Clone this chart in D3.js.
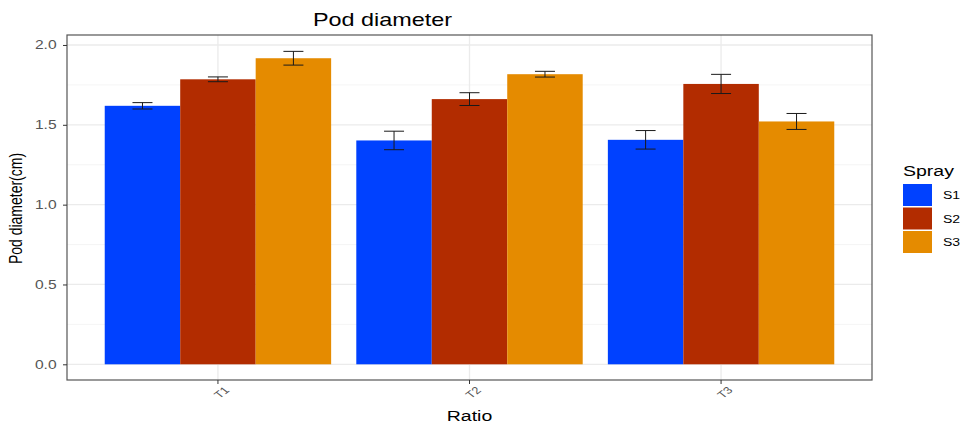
<!DOCTYPE html>
<html>
<head>
<meta charset="utf-8">
<script src="https://cdn.jsdelivr.net/npm/d3@7"></script>
<style>
  body { margin: 0; background: #fff; }
  svg { display: block; font-family: "Liberation Sans", Arial, sans-serif; }
</style>
</head>
<body>
<svg id="chart" width="964" height="424"></svg>
<script>
const categories = ["T1", "T2", "T3"];
const series = ["S1", "S2", "S3"];
const means = {
  S1: [1.619, 1.402, 1.406],
  S2: [1.785, 1.661, 1.756],
  S3: [1.917, 1.817, 1.521]
};
const errors = {
  S1: [0.020, 0.058, 0.058],
  S2: [0.015, 0.040, 0.060],
  S3: [0.043, 0.018, 0.050]
};
const yTicks = [0.0, 0.5, 1.0, 1.5, 2.0];
const yMinorTicks = [0.25, 0.75, 1.25, 1.75];
const colors = ["#0041FF", "#B22C00", "#E58B00"];

const SX = 1.3; // horizontal text stretch seen in the reference

const svg = d3.select("#chart");
const panel = { left: 67, right: 872, top: 35, bottom: 380 };

const y = d3.scaleLinear().domain([-0.0983, 2.0625]).range([panel.bottom, panel.top]);
const x = d3.scaleBand().domain(categories).range([panel.left, panel.right])
  .paddingInner(0.1).paddingOuter(0.15);
const xs = d3.scaleBand().domain(series).range([0, x.bandwidth()]);
const color = d3.scaleOrdinal().domain(series).range(colors);

svg.append("rect").attr("x", panel.left).attr("y", panel.top)
  .attr("width", panel.right - panel.left).attr("height", panel.bottom - panel.top)
  .attr("fill", "#fff");

// grid
const grid = svg.append("g");
yMinorTicks.forEach(t => grid.append("line")
  .attr("x1", panel.left).attr("x2", panel.right)
  .attr("y1", y(t)).attr("y2", y(t))
  .attr("stroke", "#F2F2F2").attr("stroke-width", 0.8));
yTicks.forEach(t => grid.append("line")
  .attr("x1", panel.left).attr("x2", panel.right)
  .attr("y1", y(t)).attr("y2", y(t))
  .attr("stroke", "#EBEBEB").attr("stroke-width", 1.3));
categories.forEach(c => grid.append("line")
  .attr("x1", x(c) + x.bandwidth() / 2).attr("x2", x(c) + x.bandwidth() / 2)
  .attr("y1", panel.top).attr("y2", panel.bottom)
  .attr("stroke", "#EBEBEB").attr("stroke-width", 1.3));

// bars
const data = [];
series.forEach(s => categories.forEach((c, i) => data.push({ s, c, v: means[s][i], e: errors[s][i] })));

svg.append("g").selectAll("rect").data(data).join("rect")
  .attr("x", d => x(d.c) + xs(d.s))
  .attr("width", xs.bandwidth())
  .attr("y", d => y(d.v))
  .attr("height", d => y(0) - y(d.v))
  .attr("fill", d => color(d.s));

// error bars
const eb = svg.append("g").attr("stroke", "#1a1a1a").attr("stroke-width", 1);
data.forEach(d => {
  const cx = x(d.c) + xs(d.s) + xs.bandwidth() / 2;
  const hw = 10;
  eb.append("line").attr("x1", cx).attr("x2", cx).attr("y1", y(d.v + d.e)).attr("y2", y(d.v - d.e));
  eb.append("line").attr("x1", cx - hw).attr("x2", cx + hw).attr("y1", y(d.v + d.e)).attr("y2", y(d.v + d.e));
  eb.append("line").attr("x1", cx - hw).attr("x2", cx + hw).attr("y1", y(d.v - d.e)).attr("y2", y(d.v - d.e));
});

// panel border
svg.append("rect").attr("x", panel.left).attr("y", panel.top)
  .attr("width", panel.right - panel.left).attr("height", panel.bottom - panel.top)
  .attr("fill", "none").attr("stroke", "#555").attr("stroke-width", 1.2);

// y axis
const yAxis = d3.axisLeft(y).tickValues(yTicks).tickFormat(d3.format(".1f")).tickSize(4).tickPadding(4);
const yg = svg.append("g").attr("transform", `translate(${panel.left},0)`).call(yAxis);
yg.select(".domain").remove();
yg.selectAll(".tick line").attr("stroke", "#333");
yg.selectAll(".tick text").attr("fill", "#555").style("font-size", "12px")
  .attr("transform", `scale(${SX},1)`);

// x axis
const xAxis = d3.axisBottom(x).tickSize(4).tickPadding(2);
const xg = svg.append("g").attr("transform", `translate(0,${panel.bottom})`).call(xAxis);
xg.select(".domain").remove();
xg.selectAll(".tick line").attr("stroke", "#333");
xg.selectAll(".tick text")
  .attr("fill", "#555").style("font-size", "10px")
  .attr("text-anchor", "middle").attr("dy", null).attr("y", 0)
  .attr("transform", `translate(4.5,13) scale(${SX},1) rotate(-45)`)
  .attr("dominant-baseline", "middle");

// titles
svg.append("text").attr("transform", `translate(313,26) scale(${SX},1)`).text("Pod diameter")
  .style("font-size", "18px").attr("fill", "#000");
svg.append("text").attr("transform", `translate(${(panel.left + panel.right) / 2},421) scale(${SX},1)`)
  .attr("text-anchor", "middle").text("Ratio").style("font-size", "15px").attr("fill", "#000");
svg.append("text").attr("transform", `translate(22,${(panel.top + panel.bottom) / 2 + 1}) scale(${SX},1) rotate(-90)`)
  .attr("text-anchor", "middle").text("Pod diameter(cm)")
  .style("font-size", "14px").attr("fill", "#000");

// legend
const lg = svg.append("g");
lg.append("text").attr("transform", `translate(903,176) scale(${SX},1)`).text("Spray")
  .style("font-size", "15px").attr("fill", "#000");
series.forEach((s, i) => {
  const ky = 184 + i * 23.5;
  lg.append("rect").attr("x", 903).attr("y", ky).attr("width", 29).attr("height", 22).attr("fill", color(s));
  lg.append("text").attr("transform", `translate(943,${ky + 15}) scale(1.22,1)`)
    .text(s).style("font-size", "11.5px").attr("fill", "#000");
});
</script>
</body>
</html>
